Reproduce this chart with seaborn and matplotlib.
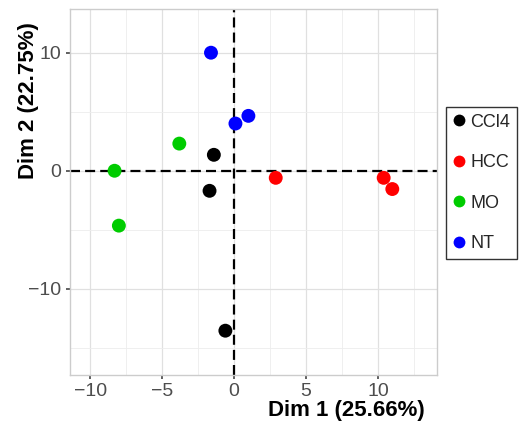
import pandas as pd
import matplotlib.pyplot as plt
import seaborn as sns
from matplotlib.ticker import MultipleLocator

groups = ["CCl4", "CCl4", "CCl4",
          "HCC", "HCC", "HCC",
          "MO", "MO", "MO",
          "NT", "NT", "NT"]
dim1 = [-1.4, -1.7, -0.6,
        2.9, 10.4, 11.0,
        -8.3, -3.8, -8.0,
        -1.6, 0.1, 1.0]
dim2 = [1.35, -1.7, -13.55,
        -0.6, -0.6, -1.55,
        0.0, 2.3, -4.65,
        10.0, 4.0, 4.65]
group_order = ["CCl4", "HCC", "MO", "NT"]
group_colors = ["#000000", "#ff0000", "#00cc00", "#0000ff"]

df = pd.DataFrame({"group": groups, "Dim1": dim1, "Dim2": dim2})

sns.set_theme(style="whitegrid")
plt.rcParams["font.family"] = ["Liberation Sans", "DejaVu Sans"]

fig = plt.figure(figsize=(5.22, 4.3), dpi=100)
ax = fig.add_axes([0.134, 0.128, 0.703, 0.851])

ax.axhline(0, color="black", lw=1.6, ls=(0, (4.5, 2.3)), zorder=1)
ax.axvline(0, color="black", lw=1.6, ls=(0, (4.5, 2.3)), zorder=1)

sns.scatterplot(data=df, x="Dim1", y="Dim2", hue="group", hue_order=group_order,
                palette=group_colors, s=100, edgecolor="none", ax=ax, zorder=3)

ax.set_xlim(-11.4, 14.1)
ax.set_ylim(-17.3, 13.7)
ax.xaxis.set_major_locator(MultipleLocator(5))
ax.yaxis.set_major_locator(MultipleLocator(10))
ax.xaxis.set_minor_locator(MultipleLocator(2.5))
ax.yaxis.set_minor_locator(MultipleLocator(5))
ax.grid(which="major", color="#e0e0e0", lw=0.9)
ax.grid(which="minor", color="#ededed", lw=0.6)
ax.set_axisbelow(True)
for sp in ax.spines.values():
    sp.set_color("#cccccc")
    sp.set_linewidth(1.0)

ax.tick_params(axis="both", which="major", labelsize=14, labelcolor="#4d4d4d",
               length=3, color="#4d4d4d", bottom=True, left=True, pad=3)
ax.tick_params(which="minor", length=0)
ax.set_xticks([-10, -5, 0, 5, 10])
ax.set_xticklabels(["\u221210", "\u22125", "0", "5", "10"])
ax.set_yticks([-10, 0, 10])
ax.set_yticklabels(["\u221210", "0", "10"])

ax.set_xlabel("Dim 1 (25.66%)", fontsize=16, fontweight="bold", color="black")
ax.set_ylabel("Dim 2 (22.75%)", fontsize=16, fontweight="bold", color="black")
ax.xaxis.set_label_coords(0.752, -0.068)
ax.yaxis.set_label_coords(-0.085, 0.75)

leg = ax.legend(title=None, loc="center left", bbox_to_anchor=(446 / 522, 1 - 183 / 430),
                bbox_transform=fig.transFigure, borderaxespad=0,
                fontsize=13, frameon=True, fancybox=False, handlelength=0.6,
                handletextpad=0.35, labelspacing=1.3, borderpad=0.4)
for h in leg.legend_handles:
    h.set_markersize(8.5)
leg.get_frame().set_edgecolor("black")
leg.get_frame().set_linewidth(1.0)

fig.savefig("out.png", dpi=100)
